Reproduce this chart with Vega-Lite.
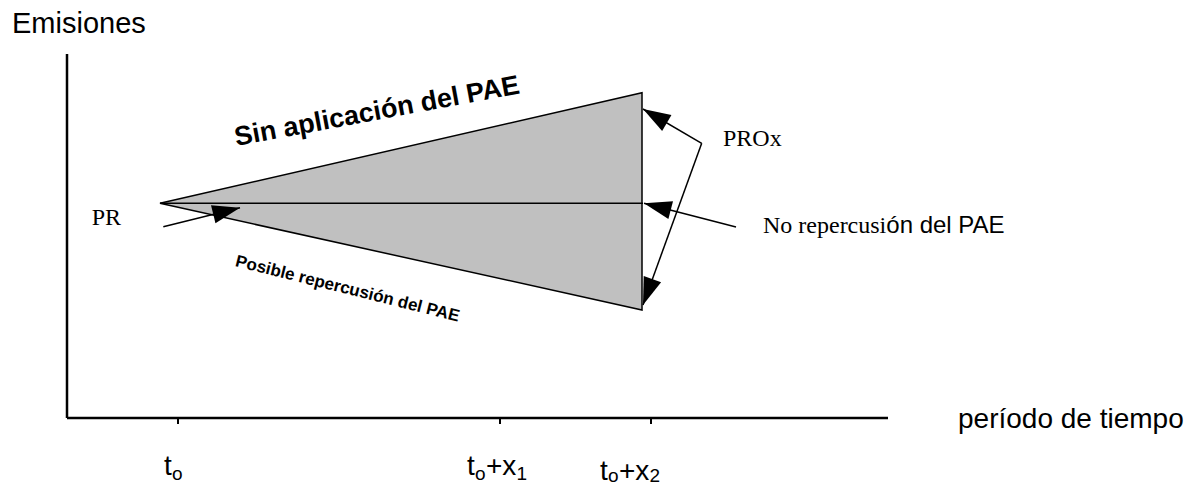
{
  "$schema": "https://vega.github.io/schema/vega-lite/v6.json",
  "width": 1196,
  "height": 486,
  "padding": 0,
  "autosize": {"type": "none"},
  "background": "white",
  "config": {"view": {"stroke": null}},
  "datasets": {
    "triangle": [
      {"t": 9.3, "hi": 21.47, "lo": 21.47},
      {"t": 57.5, "hi": 32.53, "lo": 10.8}
    ],
    "axes": [
      {"x": 0, "y": 0, "x2": 0, "y2": 36.4},
      {"x": 0, "y": 0, "x2": 82.1, "y2": 0}
    ],
    "ticks": [
      {"x": 11.1, "y": 0, "x2": 11.1, "y2": -0.6},
      {"x": 43.3, "y": 0, "x2": 43.3, "y2": -0.6},
      {"x": 58.4, "y": 0, "x2": 58.4, "y2": -0.6}
    ],
    "lines": [
      {"x": 9.3, "y": 21.47, "x2": 57.6, "y2": 21.47}
    ],
    "arrows": [
      {"x": 9.63, "y": 19.13, "x2": 17.3, "y2": 21.03},
      {"x": 63.47, "y": 27.47, "x2": 57.6, "y2": 30.9},
      {"x": 63.47, "y": 27.47, "x2": 57.6, "y2": 11.3},
      {"x": 66.9, "y": 19.1, "x2": 57.7, "y2": 21.47}
    ],
    "ytitle": [{"txt": "Emisiones", "x": -5.5, "y": 38.47}],
    "xtitle": [{"txt": "período de tiempo", "x": 89.1, "y": -1.03}],
    "tickmain": [
      {"txt": "t", "x": 9.7, "y": -5.7},
      {"txt": "t", "x": 40.0, "y": -5.7},
      {"txt": "+x", "x": 41.9, "y": -5.7},
      {"txt": "t", "x": 53.3, "y": -6.15},
      {"txt": "+x", "x": 55.2, "y": -6.15}
    ],
    "ticksub": [
      {"txt": "o", "x": 10.5, "y": -6.2},
      {"txt": "o", "x": 40.8, "y": -6.2},
      {"txt": "1", "x": 44.94, "y": -6.2},
      {"txt": "o", "x": 54.1, "y": -6.4},
      {"txt": "2", "x": 58.24, "y": -6.4}
    ],
    "serif": [
      {"txt": "PR", "x": 2.47, "y": 19.3},
      {"txt": "PROx", "x": 65.6, "y": 27.23},
      {"txt": "No repercusi", "x": 69.6, "y": 18.5}
    ],
    "sans24": [
      {"txt": "ón del PAE", "x": 81.93, "y": 18.5}
    ],
    "sin": [{"txt": "Sin aplicación del PAE", "x": 31.0, "y": 30.63}],
    "posible": [{"txt": "Posible repercusión del PAE", "x": 28.05, "y": 12.9}]
  },
  "layer": [
    {
      "data": {"name": "triangle"},
      "mark": {"type": "area", "fill": "#c0c0c0", "stroke": "black", "strokeWidth": 1.5, "orient": "vertical"},
      "encoding": {
        "x": {"field": "t", "type": "quantitative", "scale": {"domain": [-6.7, 112.9], "nice": false, "zero": false}, "axis": null},
        "y": {"field": "hi", "type": "quantitative", "scale": {"domain": [-6.8, 41.8], "nice": false, "zero": false}, "axis": null},
        "y2": {"field": "lo"}
      }
    },
    {
      "data": {"name": "axes"},
      "mark": {"type": "rule", "color": "black", "strokeWidth": 2.5},
      "encoding": {
        "x": {"field": "x", "type": "quantitative", "axis": null},
        "y": {"field": "y", "type": "quantitative", "axis": null},
        "x2": {"field": "x2"},
        "y2": {"field": "y2"}
      }
    },
    {
      "data": {"name": "ticks"},
      "mark": {"type": "rule", "color": "black", "strokeWidth": 2},
      "encoding": {
        "x": {"field": "x", "type": "quantitative", "axis": null},
        "y": {"field": "y", "type": "quantitative", "axis": null},
        "x2": {"field": "x2"},
        "y2": {"field": "y2"}
      }
    },
    {
      "data": {"name": "lines"},
      "mark": {"type": "rule", "color": "black", "strokeWidth": 1.5},
      "encoding": {
        "x": {"field": "x", "type": "quantitative", "axis": null},
        "y": {"field": "y", "type": "quantitative", "axis": null},
        "x2": {"field": "x2"},
        "y2": {"field": "y2"}
      }
    },
    {
      "data": {"name": "arrows"},
      "mark": {"type": "rule", "color": "black", "strokeWidth": 1.5},
      "encoding": {
        "x": {"field": "x", "type": "quantitative", "axis": null},
        "y": {"field": "y", "type": "quantitative", "axis": null},
        "x2": {"field": "x2"},
        "y2": {"field": "y2"}
      }
    },
    {
      "data": {"name": "arrows"},
      "transform": [
        {"calculate": "atan2(datum.y - datum.y2, datum.x2 - datum.x) * 180 / PI", "as": "ang"}
      ],
      "mark": {"type": "point", "shape": "M0,0L-2,-0.67L-2,0.67Z", "filled": true, "color": "black", "opacity": 1, "size": 760},
      "encoding": {
        "x": {"field": "x2", "type": "quantitative", "axis": null},
        "y": {"field": "y2", "type": "quantitative", "axis": null},
        "angle": {"field": "ang", "type": "quantitative", "scale": null}
      }
    },
    {
      "data": {"name": "ytitle"},
      "mark": {"type": "text", "font": "Liberation Sans, Arial, sans-serif", "fontSize": 29, "align": "left", "baseline": "alphabetic", "color": "black"},
      "encoding": {
        "x": {"field": "x", "type": "quantitative", "axis": null},
        "y": {"field": "y", "type": "quantitative", "axis": null},
        "text": {"field": "txt"}
      }
    },
    {
      "data": {"name": "xtitle"},
      "mark": {"type": "text", "font": "Liberation Sans, Arial, sans-serif", "fontSize": 28, "align": "left", "baseline": "alphabetic", "color": "black"},
      "encoding": {
        "x": {"field": "x", "type": "quantitative", "axis": null},
        "y": {"field": "y", "type": "quantitative", "axis": null},
        "text": {"field": "txt"}
      }
    },
    {
      "data": {"name": "tickmain"},
      "mark": {"type": "text", "font": "Liberation Sans, Arial, sans-serif", "fontSize": 28, "align": "left", "baseline": "alphabetic", "color": "black"},
      "encoding": {
        "x": {"field": "x", "type": "quantitative", "axis": null},
        "y": {"field": "y", "type": "quantitative", "axis": null},
        "text": {"field": "txt"}
      }
    },
    {
      "data": {"name": "ticksub"},
      "mark": {"type": "text", "font": "Liberation Sans, Arial, sans-serif", "fontSize": 19, "align": "left", "baseline": "alphabetic", "color": "black"},
      "encoding": {
        "x": {"field": "x", "type": "quantitative", "axis": null},
        "y": {"field": "y", "type": "quantitative", "axis": null},
        "text": {"field": "txt"}
      }
    },
    {
      "data": {"name": "serif"},
      "mark": {"type": "text", "font": "Liberation Serif, Times New Roman, serif", "fontSize": 24, "align": "left", "baseline": "alphabetic", "color": "black"},
      "encoding": {
        "x": {"field": "x", "type": "quantitative", "axis": null},
        "y": {"field": "y", "type": "quantitative", "axis": null},
        "text": {"field": "txt"}
      }
    },
    {
      "data": {"name": "sans24"},
      "mark": {"type": "text", "font": "Liberation Sans, Arial, sans-serif", "fontSize": 24, "align": "left", "baseline": "alphabetic", "color": "black"},
      "encoding": {
        "x": {"field": "x", "type": "quantitative", "axis": null},
        "y": {"field": "y", "type": "quantitative", "axis": null},
        "text": {"field": "txt"}
      }
    },
    {
      "data": {"name": "sin"},
      "mark": {"type": "text", "font": "Liberation Sans, Arial, sans-serif", "fontSize": 27, "fontWeight": "bold", "align": "center", "baseline": "middle", "angle": 349.5, "color": "black"},
      "encoding": {
        "x": {"field": "x", "type": "quantitative", "axis": null},
        "y": {"field": "y", "type": "quantitative", "axis": null},
        "text": {"field": "txt"}
      }
    },
    {
      "data": {"name": "posible"},
      "mark": {"type": "text", "font": "Liberation Sans, Arial, sans-serif", "fontSize": 17, "fontWeight": "bold", "align": "center", "baseline": "middle", "angle": 14, "color": "black"},
      "encoding": {
        "x": {"field": "x", "type": "quantitative", "axis": null},
        "y": {"field": "y", "type": "quantitative", "axis": null},
        "text": {"field": "txt"}
      }
    }
  ]
}
